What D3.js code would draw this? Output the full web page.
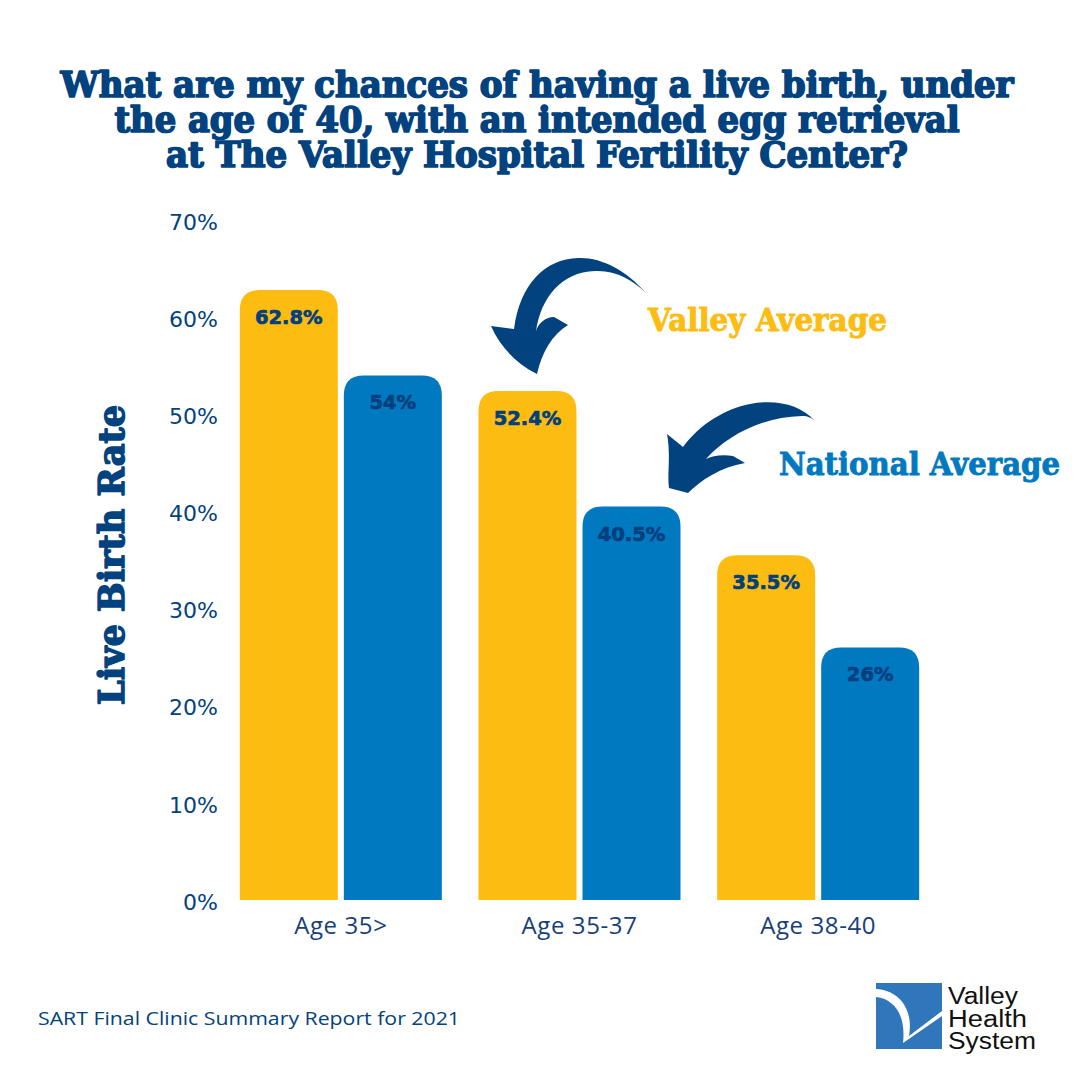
<!DOCTYPE html>
<html>
<head>
<meta charset="utf-8">
<script src="https://cdn.jsdelivr.net/npm/d3@7"></script>
<style>
  html, body { margin: 0; padding: 0; background: #ffffff; }
  svg { display: block; }
</style>
</head>
<body>
<svg id="chart" width="1080" height="1080"></svg>
<script>
// ---- data ----
const categories = ["Age 35>", "Age 35-37", "Age 38-40"];
const seriesNames = ["Valley Average", "National Average"];
const valleyValues = [62.8, 52.4, 35.5];
const nationalValues = [54, 40.5, 26];
const valueLabels = [["62.8%", "54%"], ["52.4%", "40.5%"], ["35.5%", "26%"]];
const yTicks = [0, 10, 20, 30, 40, 50, 60, 70];
const titleLines = [
  "What are my chances of having a live birth, under",
  "the age of 40, with an intended egg retrieval",
  "at The Valley Hospital Fertility Center?"
];
const yAxisTitle = "Live Birth Rate";
const sourceNote = "SART Final Clinic Summary Report for 2021";
const logoLines = ["Valley", "Health", "System"];

// ---- style ----
const NAVY = "#02427f";
const YELLOW = "#fdbc11";
const BLUE = "#0079c1";
const LOGO_BLUE = "#2f76bb";
const slab = "'DejaVu Serif Condensed', 'DejaVu Serif', serif";

const svg = d3.select("#chart");

// ---- title ----
const titleG = svg.append("g");
const titleWidths = [953, 845, 742];
const titleBase = [97, 132, 167];
titleLines.forEach((t, i) => {
  titleG.append("text")
    .attr("x", 537).attr("y", titleBase[i])
    .attr("text-anchor", "middle")
    .attr("font-family", slab)
    .attr("font-weight", "bold")
    .attr("font-size", 35)
    .attr("fill", NAVY)
    .attr("stroke", NAVY)
    .attr("stroke-width", 1.6)
    .attr("stroke-linejoin", "round")
    .attr("textLength", titleWidths[i])
    .attr("lengthAdjust", "spacingAndGlyphs")
    .text(t);
});

// ---- scales ----
const x0 = d3.scaleBand().domain(categories).range([221.5, 937.5]).padding(0);
const bw = x0.bandwidth();
const x1 = d3.scaleBand().domain(seriesNames).range([bw / 2 - 101, bw / 2 + 101]).paddingInner(0.058);
const y = d3.scaleLinear().domain([0, 70]).range([900, 220]);
const color = d3.scaleOrdinal().domain(seriesNames).range([YELLOW, BLUE]);

// ---- axes ----
const yAxis = d3.axisLeft(y).tickValues(yTicks).tickSize(0).tickPadding(7).tickFormat(d => d + "%");
const yG = svg.append("g").attr("transform", "translate(225,0)").call(yAxis);
yG.select(".domain").remove();
yG.selectAll("text")
  .attr("font-family", "'DejaVu Sans', sans-serif")
  .attr("font-size", 22)
  .attr("fill", NAVY)
  .attr("dy", "0.42em");

const xAxis = d3.axisBottom(x0).tickSize(0).tickPadding(17);
const xG = svg.append("g").attr("transform", "translate(0,900)").call(xAxis);
xG.select(".domain").remove();
xG.selectAll("text")
  .attr("font-family", "'Open Sans', sans-serif")
  .attr("font-size", 24)
  .attr("letter-spacing", 0.6)
  .attr("fill", "#17407a");

// ---- bars ----
function topRounded(xp, yp, w, h, r) {
  r = Math.min(r, h, w / 2);
  return `M${xp},${yp + h} L${xp},${yp + r} Q${xp},${yp} ${xp + r},${yp} L${xp + w - r},${yp} Q${xp + w},${yp} ${xp + w},${yp + r} L${xp + w},${yp + h} Z`;
}

const rows = categories.map((c, i) => ({
  cat: c,
  vals: [
    { s: seriesNames[0], v: valleyValues[i], label: valueLabels[i][0] },
    { s: seriesNames[1], v: nationalValues[i], label: valueLabels[i][1] }
  ]
}));

const groups = svg.append("g").selectAll("g")
  .data(rows).join("g")
  .attr("transform", d => `translate(${x0(d.cat)},0)`);

groups.selectAll("path")
  .data(d => d.vals).join("path")
  .attr("d", d => topRounded(x1(d.s), y(d.v), x1.bandwidth(), y(0) - y(d.v), 20))
  .attr("fill", d => color(d.s));

groups.selectAll("text")
  .data(d => d.vals).join("text")
  .attr("x", d => x1(d.s) + x1.bandwidth() / 2)
  .attr("y", d => y(d.v) + 34)
  .attr("text-anchor", "middle")
  .attr("font-family", "'DejaVu Sans', sans-serif")
  .attr("font-weight", "bold")
  .attr("font-size", 19.5)
  .attr("fill", "#023f7d")
  .attr("stroke", "#023f7d")
  .attr("stroke-width", 0.7)
  .text(d => d.label);

// ---- y axis title ----
svg.append("text")
  .attr("transform", "translate(124,555) rotate(-90)")
  .attr("text-anchor", "middle")
  .attr("font-family", slab)
  .attr("font-weight", "bold")
  .attr("font-size", 35)
  .attr("fill", NAVY)
  .attr("stroke", NAVY)
  .attr("stroke-width", 1.4)
  .attr("stroke-linejoin", "round")
  .attr("textLength", 300)
  .attr("lengthAdjust", "spacingAndGlyphs")
  .text(yAxisTitle);

// ---- annotations ----
svg.append("text")
  .attr("x", 648).attr("y", 331)
  .attr("font-family", "'DejaVu Serif', serif")
  .attr("font-weight", "bold")
  .attr("font-size", 31)
  .attr("fill", YELLOW)
  .attr("stroke", YELLOW)
  .attr("stroke-width", 0.9)
  .attr("textLength", 239)
  .attr("lengthAdjust", "spacingAndGlyphs")
  .text(seriesNames[0]);

svg.append("text")
  .attr("x", 779).attr("y", 475)
  .attr("font-family", "'DejaVu Serif', serif")
  .attr("font-weight", "bold")
  .attr("font-size", 31)
  .attr("fill", BLUE)
  .attr("stroke", BLUE)
  .attr("stroke-width", 0.9)
  .attr("textLength", 281)
  .attr("lengthAdjust", "spacingAndGlyphs")
  .text(seriesNames[1]);

// arrows
svg.append("path")
  .attr("d", "M646,293 C626,270 601,257 578,258 C545,259 520,284 514,329 L491,326 C500,346 515,363 537,374 C542,352 552,335 568,325 L554,317 C545,317 538,324 536,331 C541,298 561,272 595,271 C616,270 633,280 646,293 Z")
  .attr("fill", NAVY);
svg.append("path")
  .attr("d", "M815,421 C800,404 775,399 750,404 C725,409 700,424 683,447 L667,434 C671,455 667,475 669,488 L688,493 C701,480 721,467 745,463 L733,456 C722,454 712,456 706,459 C726,437 760,417 802,416 C808,416 812,418 815,421 Z")
  .attr("fill", NAVY);

// ---- source note ----
svg.append("text")
  .attr("x", 38).attr("y", 1025)
  .attr("font-family", "'Open Sans', sans-serif")
  .attr("font-size", 19)
  .attr("fill", NAVY)
  .attr("textLength", 422)
  .attr("lengthAdjust", "spacingAndGlyphs")
  .text(sourceNote);

// ---- logo ----
const logo = svg.append("g");
logo.append("rect").attr("x", 876).attr("y", 983).attr("width", 66).attr("height", 66).attr("fill", LOGO_BLUE);
logo.append("path")
  .attr("d", "M876,989 C898,990 914,1008 909,1036 L942,1011 L942,1016 L903,1043 C906,1016 895,999 876,997 Z")
  .attr("fill", "#ffffff");
const logoBase = [1004, 1027, 1049];
const logoWidths = [70, 79, 88];
logoLines.forEach((t, i) => {
  logo.append("text")
    .attr("x", 948).attr("y", logoBase[i])
    .attr("font-family", "'Liberation Sans', Arial, sans-serif")
    .attr("font-size", 23)
    .attr("fill", "#111111")
    .attr("textLength", logoWidths[i])
    .attr("lengthAdjust", "spacingAndGlyphs")
    .text(t);
});
</script>
</body>
</html>
